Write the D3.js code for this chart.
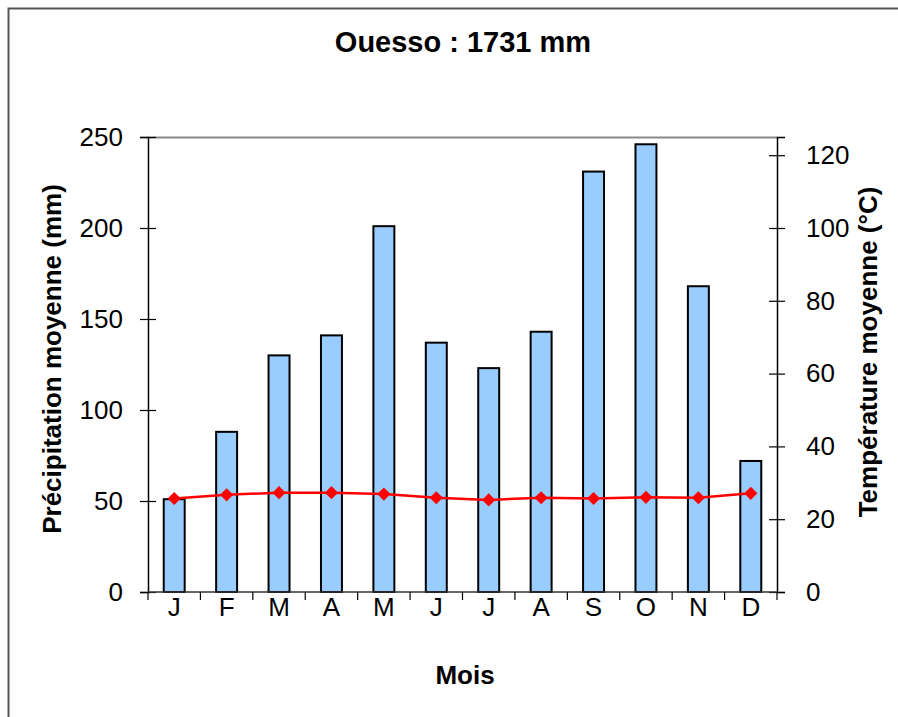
<!DOCTYPE html>
<html>
<head>
<meta charset="utf-8">
<script src="https://cdn.jsdelivr.net/npm/d3@7"></script>
<style>
  html, body { margin: 0; padding: 0; background: #fff; overflow: hidden; }
  svg { display: block; }
  text { font-family: "Liberation Sans", Arial, sans-serif; }
</style>
</head>
<body>
<div id="visualization"></div>
<script>
// Monthly data for Ouesso
var months = ["J", "F", "M", "A", "M", "J", "J", "A", "S", "O", "N", "D"];
var precip = [51, 88, 130, 141, 201, 137, 123, 143, 231, 246, 168, 72];
var temps = [25.7, 26.7, 27.3, 27.3, 26.9, 25.9, 25.3, 25.9, 25.7, 26.0, 25.9, 27.1];
var precipTicks = [0, 50, 100, 150, 200, 250];
var tempTicks = [0, 20, 40, 60, 80, 100, 120];

var width = 898;
var height = 717;
var margin = { top: 137, right: 121, bottom: 124, left: 148 };
var fontSize = "26px";

var svg = d3.select("#visualization")
            .append("svg")
            .attr("width", width)
            .attr("height", height);

// outer frame: only left and top edges are inside the picture
svg.append("path")
   .attr("d", "M8.5," + height + "V8.5H" + width)
   .attr("fill", "none")
   .attr("stroke", "#555")
   .attr("stroke-width", 2);

// title
svg.append("text")
   .attr("x", 463)
   .attr("y", 52)
   .attr("text-anchor", "middle")
   .style("font-size", "29px")
   .style("font-weight", "bold")
   .text("Ouesso : 1731 mm");

// scales
var x = d3.scaleBand()
          .domain(d3.range(months.length))
          .range([margin.left, width - margin.right])
          .paddingInner(0.6)
          .paddingOuter(0.3);

var xEdge = d3.scaleLinear()
              .domain([0, months.length])
              .range([margin.left, width - margin.right]);

var y = d3.scaleLinear()
          .domain([0, 250])
          .range([height - margin.bottom - 1, margin.top]);

var y2 = d3.scaleLinear()
           .domain([0, 125])
           .range([height - margin.bottom - 1, margin.top]);

// gray top border of plot area
svg.append("line")
   .attr("x1", margin.left).attr("x2", width - margin.right)
   .attr("y1", margin.top + 0.5).attr("y2", margin.top + 0.5)
   .attr("stroke", "#888")
   .attr("stroke-width", 2);

// bars
svg.append("g")
   .selectAll("rect")
   .data(precip)
   .join("rect")
   .attr("x", function(d, i) { return x(i); })
   .attr("width", x.bandwidth())
   .attr("y", function(d) { return y(d); })
   .attr("height", function(d) { return y(0) - y(d); })
   .attr("fill", "#99ccff")
   .attr("stroke", "#000")
   .attr("stroke-width", 2);

// left axis
var yAxis = svg.append("g")
   .attr("transform", "translate(" + margin.left + ",0)")
   .call(d3.axisLeft(y).tickValues(precipTicks).tickSize(8).tickPadding(17));
yAxis.select(".domain").attr("stroke", "#000").attr("stroke-width", 1.5);
yAxis.selectAll(".tick line").attr("x2", 8).attr("x1", -8).attr("stroke-width", 1.2);
yAxis.selectAll(".tick text")
     .style("font-size", fontSize)
     .style("font-family", "Liberation Sans, Arial, sans-serif")
     .attr("fill", "#000");

// right axis
var y2Axis = svg.append("g")
   .attr("transform", "translate(" + (width - margin.right) + ",0)")
   .call(d3.axisRight(y2).tickValues(tempTicks).tickSize(8).tickPadding(21));
y2Axis.select(".domain").attr("stroke", "#000").attr("stroke-width", 1.5);
y2Axis.selectAll(".tick line").attr("x1", -8).attr("x2", 8).attr("stroke-width", 1.2);
y2Axis.selectAll(".tick text")
      .style("font-size", fontSize)
      .style("font-family", "Liberation Sans, Arial, sans-serif")
      .attr("fill", "#000");

// bottom axis line and ticks at category edges
var base = y(0);
svg.append("line")
   .attr("x1", margin.left).attr("x2", width - margin.right)
   .attr("y1", base).attr("y2", base)
   .attr("stroke", "#333")
   .attr("stroke-width", 1.5);

svg.append("g")
   .selectAll("line")
   .data(d3.range(months.length + 1))
   .join("line")
   .attr("x1", function(d) { return xEdge(d); })
   .attr("x2", function(d) { return xEdge(d); })
   .attr("y1", base)
   .attr("y2", base + 8)
   .attr("stroke", "#000")
   .attr("stroke-width", 1.2);

// month labels
svg.append("g")
   .selectAll("text")
   .data(months)
   .join("text")
   .attr("x", function(d, i) { return x(i) + x.bandwidth() / 2; })
   .attr("y", base + 24)
   .attr("text-anchor", "middle")
   .style("font-size", fontSize)
   .text(function(d) { return d; });

// temperature line
var line = d3.line()
             .x(function(d, i) { return x(i) + x.bandwidth() / 2; })
             .y(function(d) { return y2(d); });

svg.append("path")
   .datum(temps)
   .attr("d", line)
   .attr("fill", "none")
   .attr("stroke", "#ff0000")
   .attr("stroke-width", 2.5);

svg.append("g")
   .selectAll("path")
   .data(temps)
   .join("path")
   .attr("transform", function(d, i) {
       return "translate(" + (x(i) + x.bandwidth() / 2) + "," + y2(d) + ")";
   })
   .attr("d", d3.symbol().type(d3.symbolDiamond2).size(110))
   .attr("fill", "#ff0000");

// axis titles
svg.append("text")
   .attr("x", 465)
   .attr("y", 684)
   .attr("text-anchor", "middle")
   .style("font-size", fontSize)
   .style("font-weight", "bold")
   .text("Mois");

svg.append("text")
   .attr("transform", "translate(61,359) rotate(-90)")
   .attr("text-anchor", "middle")
   .style("font-size", fontSize)
   .style("font-weight", "bold")
   .text("Précipitation moyenne (mm)");

svg.append("text")
   .attr("transform", "translate(877,352) rotate(-90)")
   .attr("text-anchor", "middle")
   .style("font-size", fontSize)
   .style("font-weight", "bold")
   .text("Température moyenne (°C)");
</script>
</body>
</html>
